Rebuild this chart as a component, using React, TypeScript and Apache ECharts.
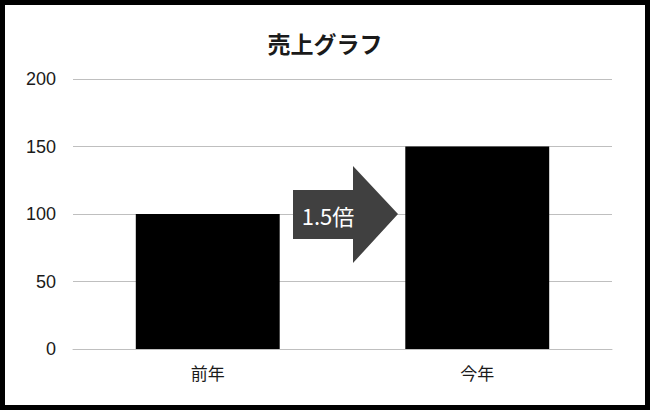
import React, { useEffect, useRef } from "react";
import * as echarts from "echarts";

const categories = ["前年", "今年"];
const salesValues = [100, 150];
const yTicks = { min: 0, max: 200, interval: 50 };
const titleText = "売上グラフ";
const arrowLabel = "1.5倍";

const FONT = "'Noto Sans CJK JP', 'Noto Sans', sans-serif";

export default function App() {
  const ref = useRef<HTMLDivElement>(null);
  useEffect(() => {
    document.body.style.margin = "0";
    if (!ref.current) return;
    const chart = echarts.init(ref.current, null, { renderer: "svg" });
    chart.setOption({
      animation: false,
      backgroundColor: "#fff",
      title: {
        text: titleText,
        left: "center",
        top: 26,
        textStyle: { fontFamily: FONT, fontSize: 23, fontWeight: "bold", color: "#1a1a1a" },
      },
      grid: { left: 73, right: 38, top: 79, bottom: 61, containLabel: false },
      xAxis: {
        type: "category",
        data: categories,
        axisLine: { lineStyle: { color: "#bfbfbf", width: 1 } },
        axisTick: { show: false },
        axisLabel: { fontFamily: FONT, fontSize: 17, color: "#1a1a1a", margin: 15 },
      },
      yAxis: {
        type: "value",
        min: yTicks.min,
        max: yTicks.max,
        interval: yTicks.interval,
        axisLine: { show: false },
        axisTick: { show: false },
        splitLine: { lineStyle: { color: "#bfbfbf", width: 1 } },
        axisLabel: { fontFamily: "'Liberation Sans', Arial, sans-serif", fontSize: 18, color: "#1a1a1a", margin: 17 },
      },
      series: [
        {
          type: "bar",
          data: salesValues,
          barCategoryGap: "46.6%",
          itemStyle: { color: "#000" },
        },
      ],
      graphic: [
        {
          type: "polygon",
          z: 100,
          shape: {
            points: [
              [293, 190],
              [353, 190],
              [353, 166],
              [398, 214],
              [353, 263],
              [353, 239],
              [293, 239],
            ],
          },
          style: { fill: "#404040" },
        },
        {
          type: "text",
          z: 101,
          x: 328,
          y: 215,
          style: {
            text: arrowLabel,
            fill: "#fff",
            font: `22px ${FONT}`,
            textAlign: "center",
            textVerticalAlign: "middle",
          },
        },
        {
          type: "rect",
          z: 200,
          shape: { x: 2.5, y: 2.5, width: 645, height: 405 },
          style: { fill: "none", stroke: "#000", lineWidth: 5 },
        },
      ],
    });
    return () => chart.dispose();
  }, []);
  return <div ref={ref} style={{ width: 650, height: 410 }} />;
}
